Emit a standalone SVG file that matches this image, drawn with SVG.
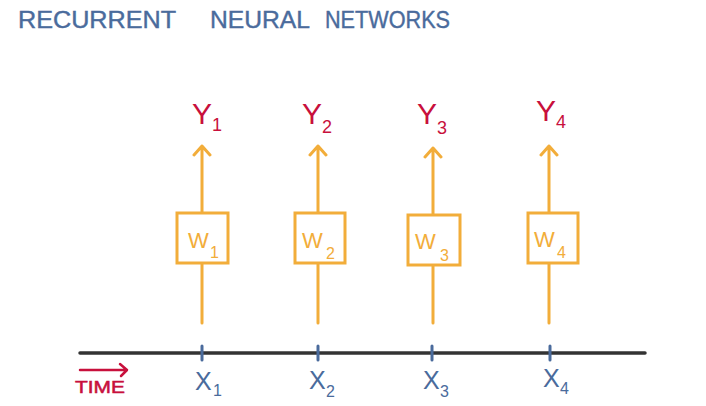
<svg xmlns="http://www.w3.org/2000/svg" width="706" height="406" viewBox="0 0 706 406">
<style>
.title{font-family:"Liberation Sans",sans-serif;font-size:23px;fill:#4a6b9c;stroke:#4a6b9c;stroke-width:0.4}
.y{font-family:"Liberation Sans",sans-serif;font-size:30px;fill:#c8103c}
.ys{font-family:"Liberation Sans",sans-serif;font-size:18px;fill:#c8103c}
.w{font-family:"Liberation Sans",sans-serif;font-size:22px;fill:#f2ad3a}
.ws{font-family:"Liberation Sans",sans-serif;font-size:16px;fill:#f2ad3a}
.x{font-family:"Liberation Sans",sans-serif;font-size:25px;fill:#4a6b9c}
.xs{font-family:"Liberation Sans",sans-serif;font-size:16px;fill:#4a6b9c}
.box{fill:#fff;stroke:#f2ad3a;stroke-width:3}
.conn{stroke:#f2ad3a;stroke-width:3;fill:none;stroke-linecap:round;stroke-linejoin:round}
.tick{stroke:#4a6b9c;stroke-width:3;stroke-linecap:round}
</style>
<rect width="706" height="406" fill="#fff"/>
<g id="title">
<text class="title" x="18" y="28" textLength="158" lengthAdjust="spacingAndGlyphs">RECURRENT</text>
<text class="title" x="210" y="28" textLength="100" lengthAdjust="spacingAndGlyphs">NEURAL</text>
<text class="title" x="325" y="28" textLength="125" lengthAdjust="spacingAndGlyphs">NETWORKS</text>
</g>

<g id="connectors">
  <path class="conn" d="M202 213V146M194 155L202 146L210 155M202 263V323"/>
  <path class="conn" d="M318 213V146M310 155L318 146L326 155M318 263V323"/>
  <path class="conn" d="M433 215V148M425 157L433 148L441 157M433 265V323"/>
  <path class="conn" d="M549 213V146M541 155L549 146L557 155M549 263V323"/>
</g>

<g id="axis">
  <line x1="80" y1="353" x2="645" y2="353" stroke="#333" stroke-width="3.5" stroke-linecap="round"/>
  <line class="tick" x1="202" y1="346" x2="202" y2="360"/>
  <line class="tick" x1="318" y1="346" x2="318" y2="360"/>
  <line class="tick" x1="432" y1="346" x2="432" y2="360"/>
  <line class="tick" x1="550" y1="346" x2="550" y2="360"/>
</g>

<g id="time">
  <path d="M80 370H126M120 364L127 370L121 376" stroke="#c8103c" stroke-width="2.5" fill="none" stroke-linecap="round" stroke-linejoin="round"/>
  <text x="75" y="393" font-family="Liberation Sans,sans-serif" font-size="17" fill="#c8103c" stroke="#c8103c" stroke-width="0.5" textLength="50" lengthAdjust="spacingAndGlyphs">TIME</text>
</g>

<g id="node-w1"><rect class="box" x="177" y="213" width="51" height="50"/><text class="w" x="188" y="248">W</text><text class="ws" x="210" y="258">1</text></g>
<g id="node-w2"><rect class="box" x="295" y="213" width="50" height="50"/><text class="w" x="302" y="248">W</text><text class="ws" x="326" y="259">2</text></g>
<g id="node-w3"><rect class="box" x="408" y="215" width="52" height="50"/><text class="w" x="415" y="249">W</text><text class="ws" x="440" y="261">3</text></g>
<g id="node-w4"><rect class="box" x="528" y="213" width="50" height="50"/><text class="w" x="534" y="247">W</text><text class="ws" x="557" y="258">4</text></g>

<g id="node-y1"><text class="y" x="192" y="124">Y</text><text class="ys" x="212" y="131">1</text></g>
<g id="node-y2"><text class="y" x="302" y="124">Y</text><text class="ys" x="322" y="133">2</text></g>
<g id="node-y3"><text class="y" x="417" y="124">Y</text><text class="ys" x="437" y="134">3</text></g>
<g id="node-y4"><text class="y" x="536" y="121">Y</text><text class="ys" x="556" y="128">4</text></g>

<g id="node-x1"><text class="x" x="195" y="390">X</text><text class="xs" x="213" y="396">1</text></g>
<g id="node-x2"><text class="x" x="309" y="389">X</text><text class="xs" x="326" y="397">2</text></g>
<g id="node-x3"><text class="x" x="423" y="389">X</text><text class="xs" x="440" y="397">3</text></g>
<g id="node-x4"><text class="x" x="543" y="387">X</text><text class="xs" x="560" y="394">4</text></g>
</svg>
